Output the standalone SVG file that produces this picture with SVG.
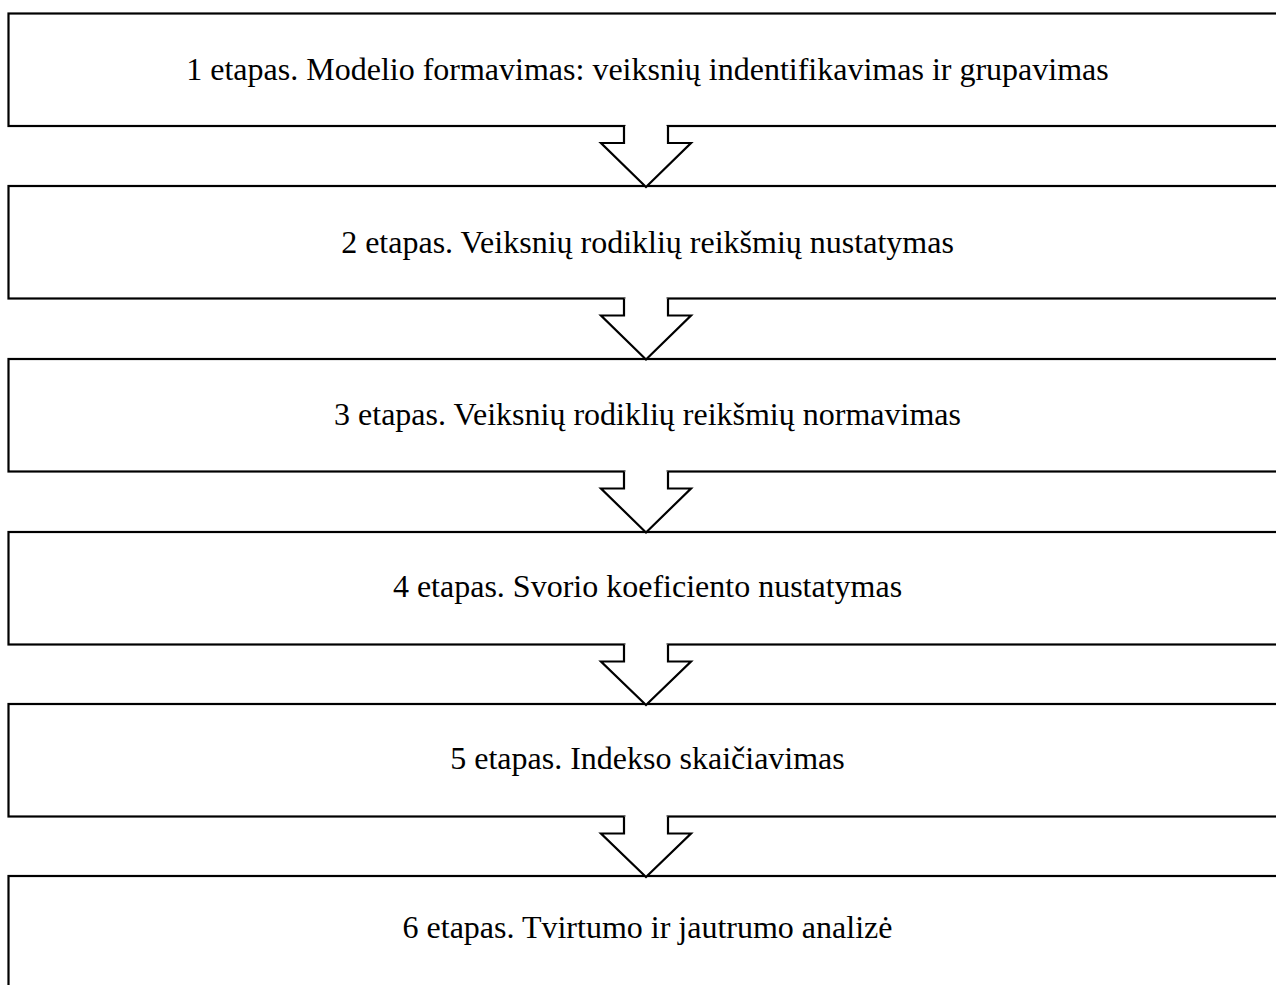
<svg xmlns="http://www.w3.org/2000/svg" width="1276" height="985" viewBox="0 0 1276 985">
<style>
.box{fill:#fff;stroke:#000;stroke-width:2.2}
.arr{fill:#fff;stroke:#000;stroke-width:2.2;stroke-linejoin:miter}
.cov{fill:#fff;stroke:none}
.t{font-family:"Liberation Serif","Times New Roman",serif;font-size:32px;fill:#000;text-anchor:middle}
</style>
<rect width="1276" height="985" fill="#fff"/>
<g id="n1"><rect class="box" x="8.5" y="13.5" width="1280" height="112.5"/><text class="t" x="647.5" y="80">1 etapas. Modelio formavimas: veiksnių indentifikavimas ir grupavimas</text></g>
<g id="n2"><rect class="box" x="8.5" y="186" width="1280" height="112.5"/><text class="t" x="647.5" y="253">2 etapas. Veiksnių rodiklių reikšmių nustatymas</text></g>
<g id="n3"><rect class="box" x="8.5" y="359" width="1280" height="112.5"/><text class="t" x="647.5" y="425">3 etapas. Veiksnių rodiklių reikšmių normavimas</text></g>
<g id="n4"><rect class="box" x="8.5" y="532" width="1280" height="112.5"/><text class="t" x="647.5" y="597">4 etapas. Svorio koeficiento nustatymas</text></g>
<g id="n5"><rect class="box" x="8.5" y="704" width="1280" height="112.5"/><text class="t" x="647.5" y="769">5 etapas. Indekso skaičiavimas</text></g>
<g id="n6"><rect class="box" x="8.5" y="876" width="1280" height="150"/><text class="t" x="647.5" y="938">6 etapas. Tvirtumo ir jautrumo analizė</text></g>
<g id="connectors">
<rect class="cov" x="625.5" y="123" width="41" height="6"/>
<rect class="cov" x="625.5" y="295.5" width="41" height="6"/>
<rect class="cov" x="625.5" y="468.5" width="41" height="6"/>
<rect class="cov" x="625.5" y="641.5" width="41" height="6"/>
<rect class="cov" x="625.5" y="813.5" width="41" height="6"/>
<path class="arr" d="M624,126 V143 H601 L646,187 L691,143 H668 V126"/>
<path class="arr" d="M624,298.5 V315.5 H601 L646,359.5 L691,315.5 H668 V298.5"/>
<path class="arr" d="M624,471.5 V488.5 H601 L646,532.5 L691,488.5 H668 V471.5"/>
<path class="arr" d="M624,644.5 V661.5 H601 L646,705 L691,661.5 H668 V644.5"/>
<path class="arr" d="M624,816.5 V833.5 H601 L646,877 L691,833.5 H668 V816.5"/>
</g>
</svg>
